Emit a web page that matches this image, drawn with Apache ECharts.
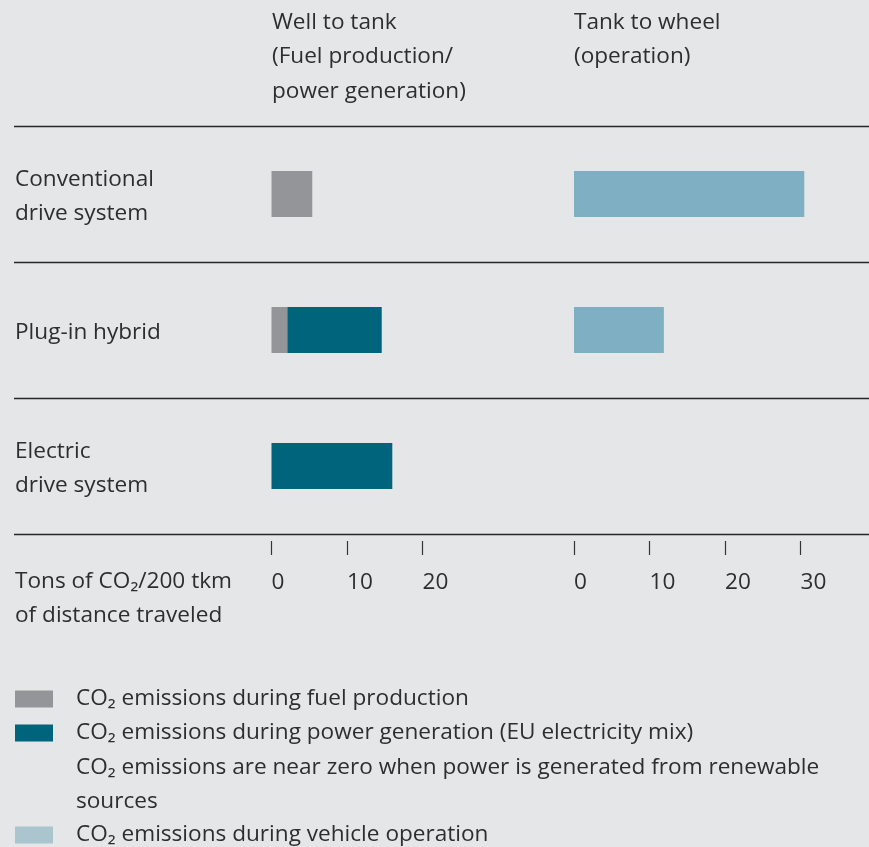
<!DOCTYPE html>
<html><head><meta charset="utf-8">
<script src="https://cdn.jsdelivr.net/npm/echarts@6/dist/echarts.min.js"></script>
<style>html,body{margin:0;padding:0;background:#e5e6e8}#c{width:869px;height:847px}</style>
</head><body><div id="c"></div>
<script>
const categories = ['Conventional\ndrive system', 'Plug-in hybrid', 'Electric\ndrive system'];
const fuelProduction = [5.4, 2.1, null];
const powerGeneration = [null, 12.5, 16.0];
const vehicleOperation = [30.5, 11.9, null];
const wttTicks = [0, 10, 20];
const ttwTicks = [0, 10, 20, 30];
const seriesNames = [
  'CO₂ emissions during fuel production',
  'CO₂ emissions during power generation (EU electricity mix)',
  'CO₂ emissions during vehicle operation'
];
const noteText = 'CO₂ emissions are near zero when power is generated from renewable\nsources';
const headerWTT = 'Well to tank\n(Fuel production/\npower generation)';
const headerTTW = 'Tank to wheel\n(operation)';
const axisTitle = 'Tons of CO₂/200 tkm\nof distance traveled';

const FONT = 'Open Sans';
const TXT = '#2e2e2e';
const FS = 22.6;
const chart = echarts.init(document.getElementById('c'), null, {renderer: 'canvas'});
const tickAxis = (gi, max, ticks) => ({
  type: 'value', gridIndex: gi, min: 0, max: max, position: 'bottom', offset: 7,
  axisLine: {show: false},
  splitLine: {show: false},
  axisTick: {show: true, length: 14, customValues: ticks, lineStyle: {color: '#333', width: 1.2}},
  axisLabel: {customValues: ticks, align: 'left', margin: 30.5, fontSize: FS, fontFamily: FONT, color: TXT}
});
const titleStyle = {fontSize: FS, fontWeight: 'normal', color: TXT, fontFamily: FONT};
chart.setOption({
  backgroundColor: '#e5e6e8',
  animation: false,
  textStyle: {fontFamily: FONT},
  title: [
    {text: headerWTT, left: 272, top: 5, padding: 0, textStyle: Object.assign({lineHeight: 34.5}, titleStyle)},
    {text: headerTTW, left: 574, top: 5, padding: 0, textStyle: Object.assign({lineHeight: 34.5}, titleStyle)},
    {text: axisTitle, left: 15, top: 565, padding: 0, textStyle: Object.assign({lineHeight: 33.5}, titleStyle)},
    {text: noteText, left: 76, top: 751, padding: 0, textStyle: Object.assign({lineHeight: 33.5}, titleStyle)}
  ],
  legend: [
    {orient: 'vertical', left: 15, top: 682, padding: 0, itemWidth: 38, itemHeight: 17, itemGap: 0, icon: 'rect',
     selectedMode: false,
     data: [{name: seriesNames[0], itemStyle: {color: '#939598'}}, {name: seriesNames[1], itemStyle: {color: '#00647d'}}],
     textStyle: {fontSize: FS, color: TXT, fontFamily: FONT, lineHeight: 34, padding: [0, 0, 0, 18]}},
    {orient: 'vertical', left: 15, top: 818, padding: 0, itemWidth: 38, itemHeight: 17, itemGap: 0, icon: 'rect',
     selectedMode: false,
     data: [{name: seriesNames[2], itemStyle: {color: '#abc5ce'}}],
     textStyle: {fontSize: FS, color: TXT, fontFamily: FONT, lineHeight: 34, padding: [0, 0, 0, 18]}}
  ],
  grid: [
    {left: 14, right: 0, top: 126, height: 408},
    {left: 271.5, width: 151, top: 126, height: 408},
    {left: 574, width: 264.25, top: 126, height: 408}
  ],
  xAxis: [
    {type: 'value', gridIndex: 0, show: false},
    tickAxis(1, 20, wttTicks),
    tickAxis(2, 35, ttwTicks)
  ],
  yAxis: [
    {type: 'category', gridIndex: 0, data: categories, inverse: true,
     axisLine: {show: false}, axisTick: {show: false},
     splitLine: {show: true, lineStyle: {color: '#262626', width: 1.4}},
     axisLabel: {inside: true, margin: 1, fontSize: FS, color: TXT, fontFamily: FONT, align: 'left',
       formatter: v => v.split('\n').map(s => '{a|' + s + '}').join('\n'),
       rich: {a: {fontSize: FS, color: TXT, fontFamily: FONT, lineHeight: 34, padding: [6, 0, 0, 0]}}}},
    {type: 'category', gridIndex: 1, data: categories, inverse: true, show: false},
    {type: 'category', gridIndex: 2, data: categories, inverse: true, show: false}
  ],
  series: [
    {name: seriesNames[0], type: 'bar', xAxisIndex: 1, yAxisIndex: 1, stack: 'wtt', barWidth: 46,
     itemStyle: {color: '#939598'}, data: fuelProduction},
    {name: seriesNames[1], type: 'bar', xAxisIndex: 1, yAxisIndex: 1, stack: 'wtt', barWidth: 46,
     itemStyle: {color: '#00647d'}, data: powerGeneration},
    {name: seriesNames[2], type: 'bar', xAxisIndex: 2, yAxisIndex: 2, barWidth: 46,
     itemStyle: {color: '#7eafc3'}, data: vehicleOperation}
  ]
});
</script></body></html>
